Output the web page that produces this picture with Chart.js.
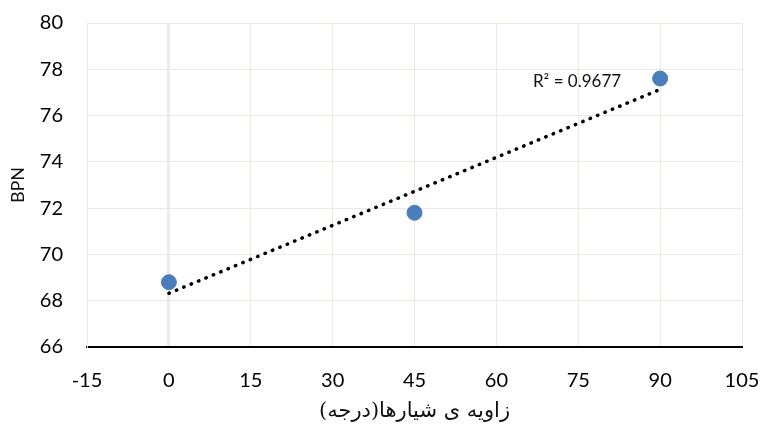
<!DOCTYPE html>
<html>
<head>
<meta charset="utf-8">
<script src="https://cdn.jsdelivr.net/npm/chart.js@4"></script>
<style>
  html, body { margin: 0; padding: 0; background: #fff; }
  canvas { display: block; }
</style>
</head>
<body>
<canvas id="chart" width="761" height="432"></canvas>
<script>
// groove angle (deg) vs BPN
const angles = [0, 45, 90];
const bpn = [68.8, 71.8, 77.6];

// linear trendline ends, as plotted
const trendX = [0, 90];
const trendY = [68.32, 77.13];
const r2Text = "R² = 0.9677";
const r2Pos = { x: 66.7, y: 77.45 };

const xTicks = [-15, 0, 15, 30, 45, 60, 75, 90, 105];
const yTicks = [66, 68, 70, 72, 74, 76, 78, 80];

const GRID = "#ece9e0";
const TICK_FONT = { family: "Lato, 'Open Sans', sans-serif", size: 20 };

// trendline label
const r2Label = {
  id: "r2Label",
  afterDatasetsDraw(chart) {
    const { ctx, scales } = chart;
    ctx.save();
    ctx.font = "17px Lato, 'Open Sans', sans-serif";
    ctx.fillStyle = "#111";
    ctx.textAlign = "left";
    ctx.textBaseline = "middle";
    ctx.fillText(r2Text, scales.x.getPixelForValue(r2Pos.x), scales.y.getPixelForValue(r2Pos.y));
    ctx.restore();
  },
};

const ctx = document.getElementById("chart").getContext("2d");
new Chart(ctx, {
  type: "scatter",
  data: {
    datasets: [
      {
        label: "trend",
        data: trendX.map((x, i) => ({ x, y: trendY[i] })),
        showLine: true,
        borderColor: "#000",
        borderWidth: 3.5,
        borderDash: [0.5, 7.5],
        borderCapStyle: "round",
        pointRadius: 0,
        order: 2,
      },
      {
        label: "BPN",
        data: angles.map((x, i) => ({ x, y: bpn[i] })),
        backgroundColor: "#4a7ebb",
        borderColor: "#4a7ebb",
        pointRadius: 7.5,
        pointHoverRadius: 7.5,
        order: 1,
      },
    ],
  },
  options: {
    responsive: false,
    animation: false,
    layout: { padding: { left: 0, right: 19, top: 23, bottom: 0 } },
    plugins: { legend: { display: false }, tooltip: { enabled: false } },
    scales: {
      x: {
        type: "linear",
        min: -15,
        max: 105,
        afterBuildTicks: (s) => { s.ticks = xTicks.map((v) => ({ value: v })); },
        afterFit: (s) => {
          s.height = 85;
          s.paddingLeft = 0;
          s.paddingRight = 0;
        },
        ticks: { color: "#000", font: TICK_FONT, padding: 22, maxRotation: 0 },
        grid: {
          drawTicks: false,
          color: (c) => (c.tick && c.tick.value === 0 ? "#ebebeb" : GRID),
          lineWidth: (c) => (c.tick && c.tick.value === 0 ? 3 : 1),
        },
        border: { color: "#000", width: 2 },
        title: {
          display: true,
          text: "زاویه ی شیارها(درجه)",
          color: "#111",
          font: { family: "'DejaVu Serif', 'Liberation Serif', 'DejaVu Sans', serif", size: 21 },
          padding: { top: 0, bottom: 8 },
        },
      },
      y: {
        min: 66,
        max: 80,
        afterBuildTicks: (s) => { s.ticks = yTicks.map((v) => ({ value: v })); },
        afterFit: (s) => {
          s.width = 87;
          s.paddingTop = 0;
          s.paddingBottom = 0;
        },
        ticks: { color: "#000", font: TICK_FONT, padding: 24 },
        grid: { drawTicks: false, color: GRID },
        border: { color: GRID },
        title: {
          display: true,
          text: "BPN",
          color: "#111",
          font: { family: "Lato, 'Open Sans', sans-serif", size: 18 },
          padding: { top: 7, bottom: 0 },
        },
      },
    },
  },
  plugins: [r2Label],
});
</script>
</body>
</html>
